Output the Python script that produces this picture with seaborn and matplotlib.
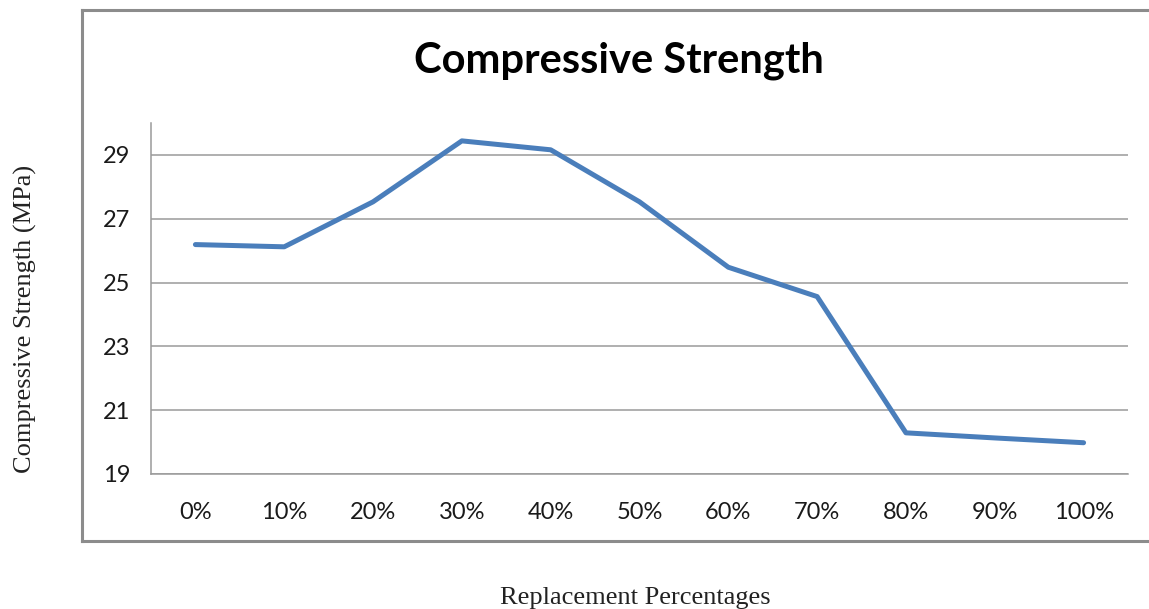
import matplotlib
matplotlib.use("Agg")
import matplotlib.pyplot as plt
from matplotlib.lines import Line2D
from matplotlib.ticker import FixedLocator
import numpy as np
import pandas as pd
import seaborn as sns

# Compressive strength (MPa) against replacement percentage
categories = ["0%", "10%", "20%", "30%", "40%", "50%", "60%", "70%", "80%", "90%", "100%"]
strength = [26.19, 26.12, 27.53, 29.44, 29.16, 27.53, 25.48, 24.56, 20.29, 20.13, 19.98]
y_ticks = [19, 21, 23, 25, 27, 29]

df = pd.DataFrame({"pos": np.arange(len(categories)), "label": categories, "strength": strength})

sns.set_theme(style="white")
plt.rcParams["font.family"] = ["Lato", "DejaVu Sans"]

W, H, DPI = 1149, 609, 100
fig = plt.figure(figsize=(W / DPI, H / DPI), dpi=DPI)
fig.patch.set_facecolor("white")

# outer chart frame (left, top and bottom edges; the right edge runs off the canvas)
frame_c = "#8c8c8c"
fx0, fy0, fy1 = 82 / W, 1 - 541 / H, 1 - 10 / H
for xs, ys in [([fx0, fx0], [fy0, fy1]), ([fx0, 1.0], [fy1, fy1]), ([fx0, 1.0], [fy0, fy0])]:
    fig.add_artist(Line2D(xs, ys, transform=fig.transFigure, color=frame_c,
                          linewidth=2.2, solid_capstyle="projecting"))

ax = fig.add_axes([151 / W, 1 - 474 / H, (1128 - 151) / W, (474 - 123) / H])
ax.set_facecolor("white")

grid_c = "#9a9a9a"
sns.lineplot(data=df, x="pos", y="strength", ax=ax, color="#4a7ebb", linewidth=3.6,
             solid_joinstyle="round", solid_capstyle="round", zorder=3)

ax.set_xlim(-0.5, len(categories) - 0.5)
ax.set_ylim(19, 30)

ax.set_yticks(y_ticks)
ax.set_yticklabels([str(v) for v in y_ticks], fontsize=17, color="#1a1a1a")
ax.yaxis.grid(True, color=grid_c, linewidth=1.1)
ax.xaxis.grid(False)

# category labels at centres, tick marks at category boundaries
ax.set_xticks(df["pos"])
ax.set_xticklabels(df["label"], fontsize=17, color="#1a1a1a")
ax.xaxis.set_minor_locator(FixedLocator(np.arange(-0.5, len(categories), 1.0)))
ax.tick_params(axis="x", which="major", length=0, pad=20)
ax.tick_params(axis="x", which="minor", length=6, width=1.1, color=grid_c, direction="out")
ax.tick_params(axis="y", which="major", length=6, width=1.1, color=grid_c, direction="out", pad=9)

for side in ["top", "right"]:
    ax.spines[side].set_visible(False)
for side in ["left", "bottom"]:
    ax.spines[side].set_color(grid_c)
    ax.spines[side].set_linewidth(1.1)

ax.set_xlabel("")
ax.set_ylabel("")

fig.text(619 / W, 1 - 73 / H, "Compressive Strength", ha="center", va="baseline",
         fontsize=30, fontweight="bold", color="black")
fig.text(25 / W, 1 - 319 / H, "Compressive Strength (MPa)", rotation=90, ha="center", va="center",
         fontsize=19, family=["Liberation Serif", "DejaVu Serif"], color="#222222")
fig.text(635.5 / W, 1 - 604 / H, "Replacement Percentages", ha="center", va="baseline",
         fontsize=19, family=["Liberation Serif", "DejaVu Serif"], color="#222222")

fig.savefig("out.png", dpi=DPI, facecolor="white")
